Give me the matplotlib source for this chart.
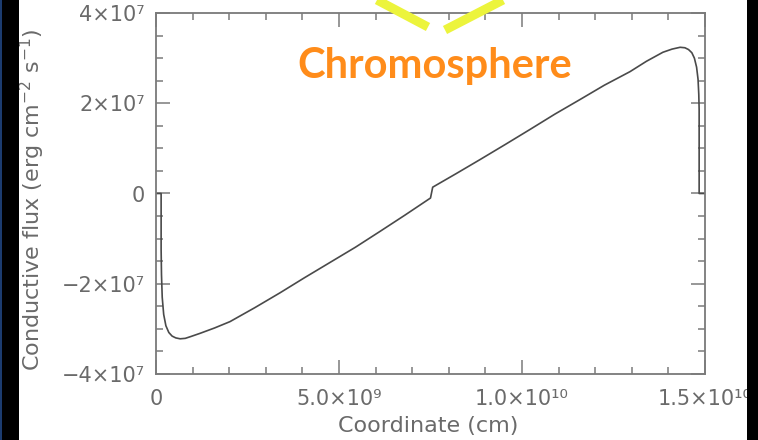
import matplotlib
matplotlib.use("Agg")
import matplotlib.pyplot as plt
from matplotlib.ticker import MultipleLocator, FixedLocator, FixedFormatter
from matplotlib.patches import Rectangle
from matplotlib.lines import Line2D

# curve: coordinate in 1e9 cm, flux in 1e7 erg cm^-2 s^-1
coord = [0, 0.14, 0.14, 0.15, 0.17, 0.21, 0.27, 0.35, 0.44, 0.54, 0.66, 0.80,
         0.95, 1.20, 1.60, 2.02, 2.70, 3.39, 4.05, 4.75, 5.45, 6.12, 6.80,
         7.50, 7.56, 8.20, 8.85, 9.55, 10.22, 10.90, 11.58, 12.25, 12.95,
         13.40, 13.85, 14.10, 14.32, 14.45, 14.55, 14.64, 14.71, 14.77,
         14.81, 14.83, 14.84, 14.84, 15.0]
flux = [0, 0, -1.24, -1.80, -2.30, -2.68, -2.93, -3.08, -3.16, -3.20, -3.22,
        -3.21, -3.17, -3.10, -2.98, -2.84, -2.53, -2.20, -1.87, -1.53, -1.19,
        -0.84, -0.48, -0.10, 0.14, 0.44, 0.75, 1.09, 1.42, 1.76, 2.08, 2.40,
        2.70, 2.93, 3.13, 3.20, 3.24, 3.23, 3.19, 3.12, 3.00, 2.80, 2.53,
        2.20, 1.86, 0, 0]

xticks = [0, 5e9, 1e10, 1.5e10]
xlabels = ["0", "5.0×10⁹", "1.0×10¹⁰", "1.5×10¹⁰"]
yticks = [-4e7, -2e7, 0, 2e7, 4e7]
ylabels = ["−4×10⁷", "−2×10⁷", "0", "2×10⁷", "4×10⁷"]

axis_grey = "#7a7a7a"
text_grey = "#6a6a6a"

fig = plt.figure(figsize=(7.58, 4.40), dpi=100)
fig.patch.set_facecolor("white")
ax = fig.add_axes([156/758, 1-374/440, (705-156)/758, (374-13)/440])

x = [c * 1e9 for c in coord]
y = [f * 1e7 for f in flux]
ax.plot(x, y, color="#4a4a4a", lw=1.2)

ax.set_xlim(0, 1.5e10)
ax.set_ylim(-4e7, 4e7)
ax.xaxis.set_major_locator(FixedLocator(xticks))
ax.xaxis.set_major_formatter(FixedFormatter(xlabels))
ax.xaxis.set_minor_locator(MultipleLocator(1e9))
ax.yaxis.set_major_locator(FixedLocator(yticks))
ax.yaxis.set_major_formatter(FixedFormatter(ylabels))
ax.yaxis.set_minor_locator(MultipleLocator(5e6))

for s in ax.spines.values():
    s.set_color(axis_grey)
    s.set_linewidth(1.3)
ax.tick_params(which="both", direction="in", top=True, right=True,
               color=axis_grey, width=1.1, labelcolor=text_grey, labelsize=15)
ax.tick_params(which="major", length=10)
ax.tick_params(axis="y", which="major", pad=8)
ax.tick_params(axis="x", which="major", pad=11)
ax.tick_params(which="minor", length=5)

ax.set_xlabel("Coordinate (cm)", color=text_grey, fontsize=16)
ax.xaxis.set_label_coords(0.496, -0.116)
ax.set_ylabel("Conductive flux (erg cm$^{-2}$ s$^{-1}$)", color=text_grey,
              fontsize=16)
ax.yaxis.set_label_coords(-0.198, 0.482)

# annotation from the slide
fig.text(435/758, 1-66/440, "Chromosphere", color="#ff8c1a", fontsize=30,
         fontweight="bold", family="Lato", ha="center", va="center")
yellow = "#ecf43c"
fig.add_artist(Line2D([377/758, 428/758], [1.0, 1-27/440], color=yellow,
                      lw=6.5, solid_capstyle="butt"))
fig.add_artist(Line2D([503/758, 445/758], [1.0, 1-30/440], color=yellow,
                      lw=6.5, solid_capstyle="butt"))

# dark slide edges
fig.add_artist(Rectangle((0, 0), 19/758, 1, transform=fig.transFigure,
                         facecolor="black", edgecolor="none", zorder=10))
fig.add_artist(Rectangle((0, 0), 2/758, 1, transform=fig.transFigure,
                         facecolor="#1c3c70", edgecolor="none", zorder=11))
fig.add_artist(Rectangle((747/758, 0), 11/758, 1, transform=fig.transFigure,
                         facecolor="black", edgecolor="none", zorder=10))

fig.savefig("out.png", dpi=100)
